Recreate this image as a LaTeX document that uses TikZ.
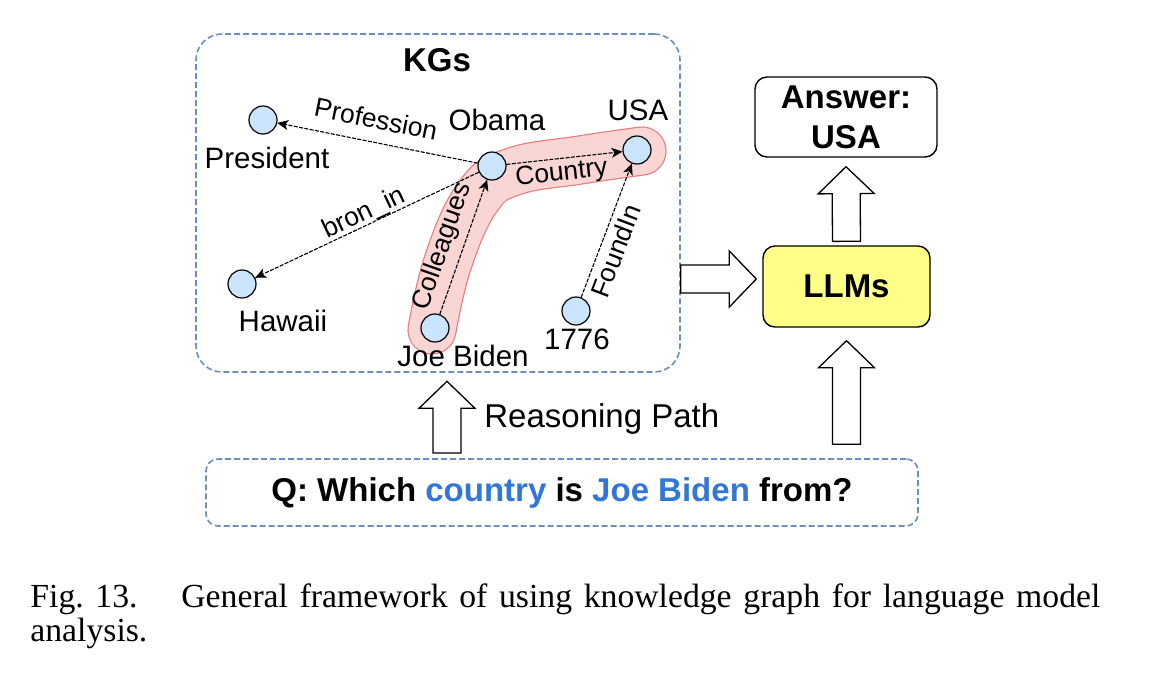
\documentclass[tikz,border=0pt]{standalone}
\usepackage{fontspec}
\setmainfont{Liberation Sans}
\newfontfamily\capfont{Liberation Serif}
\usetikzlibrary{arrows.meta,calc,positioning}

\definecolor{kgblue}{HTML}{6C8EBF}
\definecolor{qblue}{HTML}{3277D8}
\definecolor{entfill}{HTML}{CCE5FF}
\definecolor{pathfill}{HTML}{F9D5D4}
\definecolor{pathedge}{HTML}{E57E7B}
\definecolor{llmfill}{HTML}{FFFF88}

\newcommand{\shaftw}{7pt}
\newcommand{\headw}{14pt}
\newcommand{\headl}{13.5pt}

\tikzset{
  fat/.style={draw, fill=white, line width=0.65pt, line join=miter,
    to path={
      ($(\tikztostart)!\shaftw!90:(\tikztotarget)$)
      -- ($($(\tikztotarget)!\headl!(\tikztostart)$)!\shaftw!90:(\tikztotarget)$)
      -- ($($(\tikztotarget)!\headl!(\tikztostart)$)!\headw!90:(\tikztotarget)$)
      -- (\tikztotarget)
      -- ($($(\tikztotarget)!\headl!(\tikztostart)$)!\headw!-90:(\tikztotarget)$)
      -- ($($(\tikztotarget)!\headl!(\tikztostart)$)!\shaftw!-90:(\tikztotarget)$)
      -- ($(\tikztostart)!\shaftw!-90:(\tikztotarget)$)
      -- cycle}}
}

\begin{document}
\begin{tikzpicture}[x=0.5pt, y=-0.5pt,
    ent/.style={circle, draw, fill=entfill, line width=0.6pt, minimum size=14pt, inner sep=0pt},
    entname/.style={font=\fontsize{14.75}{17}\selectfont, inner sep=0pt, anchor=base},
    rel/.style={draw=black, line width=0.55pt, dash pattern=on 2pt off 0.7pt,
      -{Stealth[length=5.5pt,width=5pt,inset=1.5pt]}},
    rellabel/.style={font=\fontsize{13.2}{15}\selectfont, sloped, inner sep=1.5pt},
    dashbox/.style={draw=kgblue, line width=0.8pt, dash pattern=on 3pt off 1.5pt},
    boldtext/.style={font=\bfseries\fontsize{16.5}{20}\selectfont},
    solidbox/.style={draw, line width=0.7pt, rounded corners=6pt, boldtext, align=center}]
  \useasboundingbox (0,0) rectangle (1158,676);

  % highlighted path Joe Biden -> Obama -> USA
  \draw[pathedge, line width=24.6pt, line cap=round, line join=round]
    plot[smooth, tension=0.7] coordinates {(432,330) (448,262) (477,198) (512,172) (580,160) (642,151)};
  \draw[pathfill, line width=23.4pt, line cap=round, line join=round]
    plot[smooth, tension=0.7] coordinates {(432,330) (448,262) (477,198) (512,172) (580,160) (642,151)};

  \node[dashbox, rounded corners=13pt, minimum width=242pt, minimum height=169pt] (kg) at (438,203) {};
  \node[boldtext, anchor=base, inner sep=0pt] (kgtitle) at (437,71.5) {KGs};

  \node[ent] (pres) at (263,120) {};
  \node[ent] (obama) at (492,166) {};
  \node[ent] (usa) at (637,150) {};
  \node[ent] (hawaii) at (242,284) {};
  \node[ent] (biden) at (435,328) {};
  \node[ent] (year) at (576,311) {};

  \node[entname] (presname) at (267,168) {President};
  \node[entname] (obamaname) at (497,130.5) {Obama};
  \node[entname] (usaname) at (638,120) {USA};
  \node[entname] (hawaiiname) at (283,331.5) {Hawaii};
  \node[entname] (bidenname) at (463,366.5) {Joe Biden};
  \node[entname] (yearname) at (577,349) {1776};

  \draw[rel] (obama) -- node[rellabel, above=5pt, pos=0.53] (proflabel) {Profession} (pres);
  \draw[rel] (obama) -- node[rellabel, below=0pt, pos=0.46] (countrylabel) {Country} (usa);
  \draw[rel] (obama) -- node[rellabel, above=-2pt, pos=0.49] (bornlabel) {bron\_in} (hawaii);
  \draw[rel] (biden) -- node[rellabel, above=2pt, pos=0.455] (colllabel) {Colleagues} (obama);
  \draw[rel] (year) -- node[rellabel, below=1.2pt, pos=0.39] (foundlabel) {FoundIn} (usa);

  \node[solidbox, fill=white, minimum width=91pt, minimum height=40pt] (ans) at (846,117) {Answer:\\USA};
  \node[solidbox, fill=llmfill, minimum width=83.5pt, minimum height=40.5pt] (llm) at (846.5,286.5) {LLMs};
  \node[dashbox, rounded corners=6pt, boldtext, minimum width=356pt, minimum height=33.5pt] (q) at (562,492.5)
    {Q: Which \textcolor{qblue}{country} is \textcolor{qblue}{Joe Biden} from?};

  \coordinate (kgout) at (kg.east |- 0,279);
  \coordinate (rpfoot) at (447,453);
  \draw[fat] (kgout) to ($(kgout -| llm.west)+(-6,0)$);
  \draw[fat] ($(llm.north)+(0,-4)$) to ($(ans.south)+(0,9)$);
  \draw[fat] ($(q.north -| llm)+(0,-14)$) to ($(llm.south)+(0,13)$);
  \draw[fat] (rpfoot) to ($(rpfoot |- kg.south)+(0,8.5)$);
  \node[font=\fontsize{16.5}{18}\selectfont, anchor=base west, inner sep=0pt] (rplabel) at (484,427) {Reasoning Path};

  \node[anchor=north west, inner sep=0pt, text width=535pt, align=justify,
    font=\capfont\fontsize{16.85}{17}\selectfont] (caption) at (30,583)
    {\noindent Fig.~13.\hspace{1.3em}General framework of using knowledge graph for language model\break analysis.};
\end{tikzpicture}
\end{document}
